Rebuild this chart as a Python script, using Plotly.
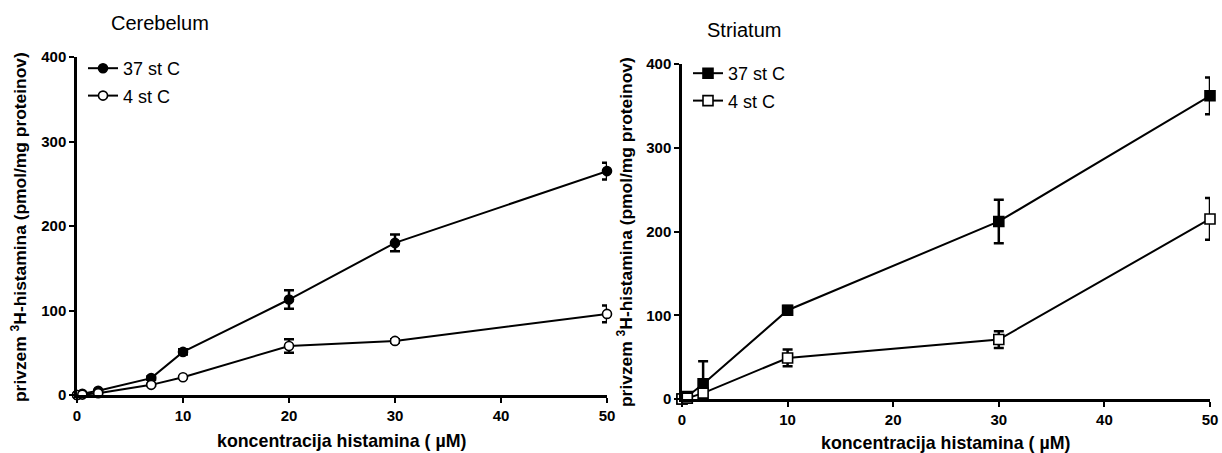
import plotly.graph_objects as go

W, H = 1222, 453

# ---------------- data ----------------
cer_x37 = [0, 0.5, 2, 7, 10, 20, 30, 50]
cer_y37 = [0, 1.5, 5, 20, 51, 113, 180, 265]
cer_e37 = [0, 0, 1, 2, 3, 11, 10, 10]
cer_x4 = [0, 0.5, 2, 7, 10, 20, 30, 50]
cer_y4 = [0, 0.5, 2, 12, 21, 58, 64, 96]
cer_e4 = [0, 0, 0, 1, 1, 8, 2, 10]

str_x37 = [0, 0.5, 2, 10, 30, 50]
str_y37 = [0, 3, 18, 106, 212, 362]
str_e37 = [0, 0, 27, 5, 26, 22]
str_x4 = [0, 0.5, 2, 10, 30, 50]
str_y4 = [0, 1, 7, 49, 71, 215]
str_e4 = [0, 0, 3, 10, 10, 25]

x_ticks = [0, 10, 20, 30, 40, 50]
y_ticks = [0, 100, 200, 300, 400]
legend_names = ["37 st C", "4 st C"]
panel_titles = ["Cerebelum", "Striatum"]
x_title = "koncentracija histamina ( \u00b5M)"
y_title = "privzem <sup>3</sup>H-histamina (pmol/mg proteinov)"

FONT = "Liberation Sans, Arial, Helvetica, sans-serif"


def px(x):
    return x / W


def py(y):
    return 1 - y / H


fig = go.Figure()


def add_series(x, y, e, name, symbol, filled, xa, ya, legend):
    fig.add_trace(go.Scatter(
        x=x, y=y, name=name, mode="lines+markers",
        xaxis=xa, yaxis=ya, legend=legend, legendgroup=name + legend,
        line=dict(color="black", width=2),
        marker=dict(symbol=symbol, size=9 if symbol == "circle" else 10,
                    color="black" if filled else "white",
                    line=dict(color="black", width=1.6)),
        error_y=dict(type="data", array=e, visible=True, color="black",
                     thickness=2.5, width=5),
        cliponaxis=False,
    ))


add_series(cer_x37, cer_y37, cer_e37, legend_names[0], "circle", True, "x", "y", "legend")
add_series(cer_x4, cer_y4, cer_e4, legend_names[1], "circle", False, "x", "y", "legend")
add_series(str_x37, str_y37, str_e37, legend_names[0], "square", True, "x2", "y2", "legend2")
add_series(str_x4, str_y4, str_e4, legend_names[1], "square", False, "x2", "y2", "legend2")

axis_common = dict(
    showline=True, linecolor="black", linewidth=2.5,
    ticks="outside", ticklen=5, tickwidth=2, tickcolor="black",
    showgrid=False, zeroline=False, automargin=False,
    tickfont=dict(family=FONT, size=15, color="black", weight="bold"),
)

legend_font = dict(family=FONT, size=18, color="black")

fig.update_layout(
    template="none",
    width=W, height=H,
    margin=dict(l=0, r=0, t=0, b=0, autoexpand=False),
    paper_bgcolor="white", plot_bgcolor="white",
    xaxis=dict(domain=[px(77), px(607)], range=[0, 50], tickvals=x_ticks,
               anchor="y", **axis_common),
    yaxis=dict(domain=[py(395), py(57)], range=[0, 400], tickvals=y_ticks,
               anchor="x", **axis_common),
    xaxis2=dict(domain=[px(682), px(1210)], range=[0, 50], tickvals=x_ticks,
                anchor="y2", **axis_common),
    yaxis2=dict(domain=[py(399), py(64)], range=[0, 400], tickvals=y_ticks,
                anchor="x2", **axis_common),
    legend=dict(x=px(83), y=py(50), xanchor="left", yanchor="top",
                font=legend_font, bgcolor="rgba(0,0,0,0)", tracegroupgap=1),
    legend2=dict(x=px(688), y=py(55), xanchor="left", yanchor="top",
                 font=legend_font, bgcolor="rgba(0,0,0,0)", tracegroupgap=1),
    showlegend=True,
)

ann_font_title = dict(family=FONT, size=20, color="black")
ann_font_x = dict(family=FONT, size=17.8, color="black", weight="bold")
ann_font_y = dict(family=FONT, size=17.4, color="black", weight="bold")

annotations = [
    dict(text=panel_titles[0], x=px(160), y=py(23), font=ann_font_title),
    dict(text=panel_titles[1], x=px(744), y=py(30), font=ann_font_title),
    dict(text=x_title, x=px(341), y=py(441), font=ann_font_x),
    dict(text=x_title, x=px(945), y=py(443), font=ann_font_x),
    dict(text=y_title, x=px(19), y=py(227), font=ann_font_y, textangle=-90),
    dict(text=y_title, x=px(625), y=py(232), font=ann_font_y, textangle=-90),
]
for a in annotations:
    a.update(xref="paper", yref="paper", showarrow=False,
             xanchor="center", yanchor="middle")
fig.update_layout(annotations=annotations)

fig.write_html(
    "out.html",
    config={"displayModeBar": False},
    post_script="document.body.style.margin='0';document.body.style.overflow='hidden';",
)
